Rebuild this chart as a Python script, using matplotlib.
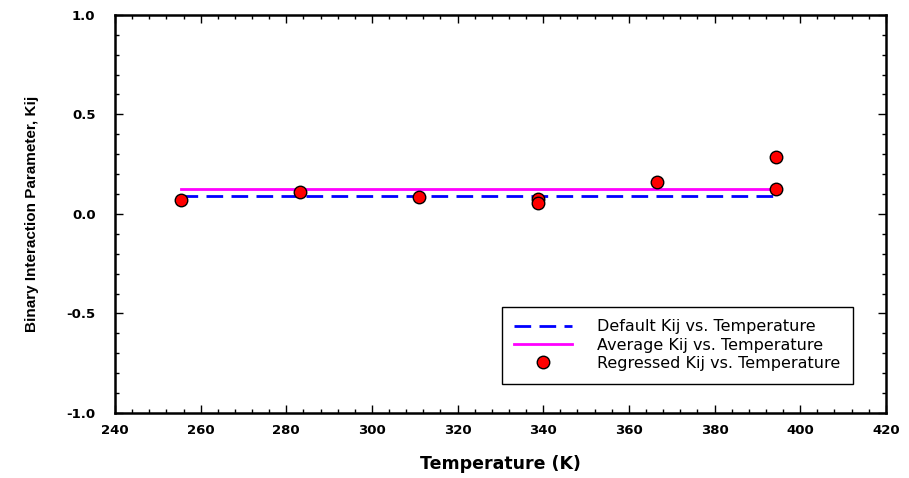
import matplotlib
matplotlib.use('Agg')
import matplotlib.pyplot as plt
import matplotlib.ticker as mticker

plt.rcParams['font.family'] = ['Liberation Sans', 'DejaVu Sans']
WIDE = ['DejaVu Sans']  # wider face to stand in for the letter-spaced text

# data
temps = [255.37, 283.15, 310.93, 338.71, 338.71, 366.48, 394.26, 394.26]
kij_regressed = [0.072, 0.108, 0.085, 0.075, 0.056, 0.159, 0.285, 0.123]
line_temps = [255.37, 394.26]
kij_default = [0.09, 0.09]
kij_average = [0.125, 0.125]

x_ticks = [240, 260, 280, 300, 320, 340, 360, 380, 400, 420]
y_ticks = [-1.0, -0.5, 0.0, 0.5, 1.0]

fig = plt.figure(figsize=(9.09, 4.78), dpi=100)
ax = fig.add_axes([0.1265, 0.136, 0.848, 0.833])

ax.plot(line_temps, kij_default, color='#0000ff', linewidth=2,
        linestyle=(0, (6, 3)), label='Default Kij vs. Temperature')
ax.plot(line_temps, kij_average, color='#ff00ff', linewidth=2,
        label='Average Kij vs. Temperature')
ax.plot(temps, kij_regressed, linestyle='none', marker='o', markersize=9,
        markerfacecolor='#ff0000', markeredgecolor='black', markeredgewidth=1,
        label='Regressed Kij vs. Temperature')

ax.set_xlim(240, 420)
ax.set_ylim(-1.0, 1.0)
ax.set_xticks(x_ticks)
ax.set_yticks(y_ticks)
ax.xaxis.set_minor_locator(mticker.MultipleLocator(4))
ax.yaxis.set_minor_locator(mticker.MultipleLocator(0.1))
ax.xaxis.set_major_formatter(mticker.FormatStrFormatter('%d'))
ax.yaxis.set_major_formatter(mticker.FormatStrFormatter('%.1f'))

ax.tick_params(which='both', direction='in', top=True, right=True, width=1)
ax.tick_params(which='major', length=6)
ax.tick_params(which='minor', length=3)
ax.tick_params(axis='x', pad=8)
ax.tick_params(axis='y', pad=14)
for lbl in ax.get_xticklabels() + ax.get_yticklabels():
    lbl.set_fontweight('bold')
    lbl.set_family(WIDE)
    lbl.set_fontsize(9.5)
for spine in ax.spines.values():
    spine.set_linewidth(1.8)

ax.set_xlabel('Temperature (K)', fontsize=12.5, fontweight='bold',
              family=WIDE, labelpad=13)
ax.set_ylabel('Binary Interaction Parameter, Kij', fontsize=11,
              fontweight='bold', labelpad=20)

leg = ax.legend(loc='lower right', bbox_to_anchor=(0.958, 0.074),
                prop={'family': WIDE, 'size': 11.5}, frameon=True,
                fancybox=False, edgecolor='black', framealpha=1,
                handlelength=3.6, handletextpad=1.6, borderpad=0.8,
                borderaxespad=0, labelspacing=0.2)
leg.get_frame().set_linewidth(1)

plt.savefig('out.png', dpi=100)
plt.close()
